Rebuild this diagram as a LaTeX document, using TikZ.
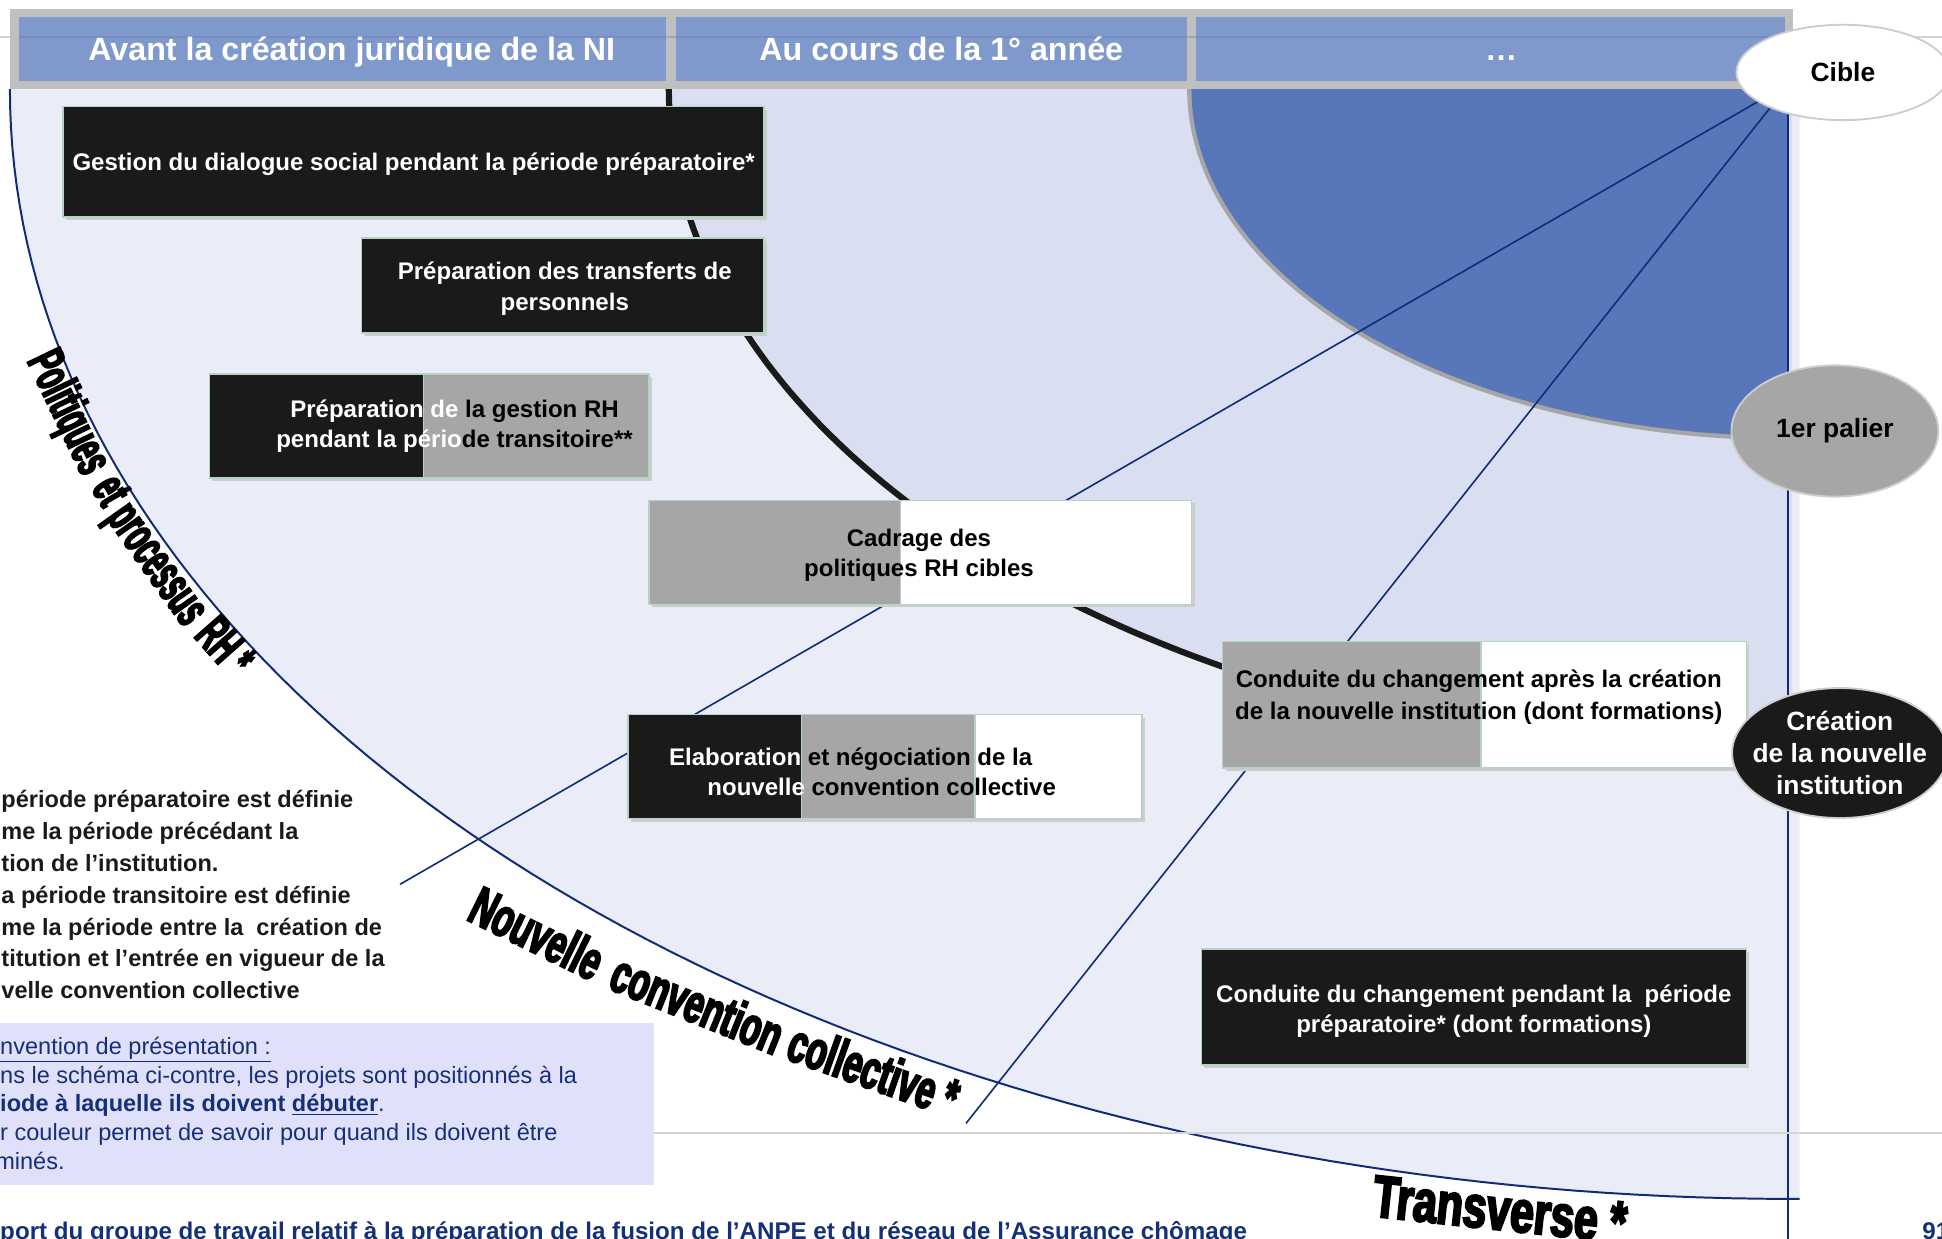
\documentclass[tikz,border=0pt]{standalone}
\usepackage{fontspec}
\setmainfont{Liberation Sans}
\newfontfamily\wordA{Liberation Sans Bold}[FakeStretch=0.52,FakeBold=3.5]
\newfontfamily\wordB{Liberation Sans Bold}[FakeStretch=0.62,FakeBold=3.5]
\newfontfamily\wordC{Liberation Sans Bold}[FakeStretch=0.72,FakeBold=3.5]
\usetikzlibrary{shapes.geometric}
\pgfdeclarelayer{back}
\pgfdeclarelayer{mid}
\pgfsetlayers{back,mid,main}
\definecolor{hdrgrey}{RGB}{191,191,191}
\definecolor{hdrblue}{RGB}{127,153,204}
\definecolor{lightfill}{RGB}{234,237,247}
\definecolor{midfill}{RGB}{217,223,240}
\definecolor{bluefill}{RGB}{88,119,187}
\definecolor{navy}{RGB}{16,44,120}
\definecolor{boxblack}{RGB}{26,26,26}
\definecolor{boxgrey}{RGB}{166,166,166}
\definecolor{mint}{RGB}{178,212,195}
\definecolor{shadowc}{RGB}{205,205,205}
\definecolor{lavender}{RGB}{224,224,250}
\definecolor{textnavy}{RGB}{20,48,120}
\definecolor{slidegrey}{RGB}{212,212,212}
\definecolor{circborder}{RGB}{205,205,205}
\tikzset{
  hdrtxt/.style={text=white, inner sep=0, anchor=base, font=\bfseries\fontsize{26}{30}\selectfont},
  boxtxt/.style={inner sep=0, align=center, font=\bfseries\fontsize{19.4}{24.5}\selectfont},
  part/.style={draw=mint, line width=1.3},
  shade/.style={fill=shadowc},
  circ/.style={ellipse, draw=circborder, line width=1.5, inner sep=0, align=center, font=\bfseries\fontsize{21.3}{26}\selectfont},
  navyline/.style={draw=navy, line width=1.3},
  rimline/.style={draw=navy, line width=1.6},
  waA/.style={sloped, anchor=base, inner sep=0, font=\wordA\fontsize{42}{42}\selectfont},
  waB/.style={sloped, anchor=base, inner sep=0, font=\wordB\fontsize{44}{44}\selectfont},
  waC/.style={sloped, anchor=base, inner sep=0, font=\wordC\fontsize{48}{48}\selectfont},
}
\begin{document}
\begin{tikzpicture}[x=1pt,y=-1pt]
\useasboundingbox (0,0) rectangle (1568,1000);
\clip (0,0) rectangle (1568,1000);
\begin{pgfonlayer}{back}
  \fill[white] (0,0) rectangle (1568,1000);
  \draw[slidegrey, line width=1.5] (0,30) -- (1568,30);
  \fill[lightfill] (1453,72) -- (8,72) -- plot[domain=0:90,samples=181,variable=\t] ({1447-1439*cos(\t)},{72+896*sin(\t)}) -- (1453,968) -- cycle;
  \fill[midfill] (540,72) -- plot[domain=0:90,samples=121,variable=\t] ({1447-907*cos(\t)},{72+541*sin(\t)}) -- (1447,72) -- cycle;
  \draw[boxblack, line width=5] plot[domain=0:90,samples=121,variable=\t] ({1447-907*cos(\t)},{72+541*sin(\t)});
  \draw[boxgrey, line width=7] plot[domain=0:90,samples=91,variable=\t] ({1443-481*cos(\t)},{72+280*sin(\t)});
  \fill[bluefill] (962,72) -- plot[domain=0:90,samples=91,variable=\t] ({1443-481*cos(\t)},{72+280*sin(\t)}) -- (1443,72) -- cycle;
  \draw[rimline] plot[domain=0:90,samples=181,variable=\t] ({1447-1439*cos(\t)},{72+896*sin(\t)}) -- (1453,968);
  \draw[rimline] (1444,72) -- (1444,1000);
  \draw[slidegrey, line width=1.5] (0,915) -- (1568,915);
\end{pgfonlayer}

% ---- boxes ----
\fill[shade] (53.5,88.5) rectangle (619.5,177.5);
\draw[part, fill=boxblack] (51,86) rectangle (617,175);
\node[boxtxt, text=white] (b1) at (334,132.5) {Gestion du dialogue social pendant la période préparatoire*};

\fill[shade] (294.5,194.5) rectangle (619.5,271.5);
\draw[part, fill=boxblack] (292,192) rectangle (617,269);
\node[boxtxt, text=white] (b2) at (456,233) {Préparation des transferts de\\personnels};

\fill[shade] (171.5,304.5) rectangle (526.5,388.5);
\draw[part, fill=boxblack] (169,302) rectangle (342,386);
\draw[part, fill=boxgrey] (342,302) rectangle (524,386);
\node[boxtxt] (b3) at (367,344) {\textcolor{white}{Préparation de} la gestion RH\\\textcolor{white}{pendant la pério}de transitoire**};

\fill[shade] (526.5,406.5) rectangle (964.5,490.5);
\draw[part, fill=boxgrey] (524,404) rectangle (727,488);
\draw[part, fill=white] (727,404) rectangle (962,488);
\node[boxtxt] (b4) at (742,448.5) {Cadrage des\\politiques RH cibles};

\fill[shade] (509.5,579.5) rectangle (924.5,663.5);
\draw[part, fill=boxblack] (507,577) rectangle (647,661);
\draw[part, fill=boxgrey] (647,577) rectangle (787,661);
\draw[part, fill=white] (787,577) rectangle (922,661);
\node[boxtxt, align=left, anchor=west] (b5) at (540,623) {\textcolor{white}{Elaboration} et négociation de la\\\hspace*{31pt}\textcolor{white}{nouvelle} convention collective};

\fill[shade] (989.5,520.5) rectangle (1412.5,622.5);
\draw[part, fill=boxgrey] (987,518) rectangle (1196,620);
\draw[part, fill=white] (1196,518) rectangle (1410,620);
\node[boxtxt, font=\bfseries\fontsize{19.4}{26}\selectfont] (b6) at (1194,563) {Conduite du changement après la création\\de la nouvelle institution (dont formations)};

\fill[shade] (972.5,768.5) rectangle (1412.5,862.5);
\draw[part, fill=boxblack] (970,766) rectangle (1410,860);
\node[boxtxt, text=white] (b7) at (1190,816.5) {Conduite du changement pendant la\ \ période\\préparatoire* (dont formations)};

% ---- header ----
\fill[hdrgrey] (8,7.5) rectangle (1448,71.5);
\fill[hdrblue] (15,13.5) rectangle (538,65.5);
\fill[hdrblue] (546,13.5) rectangle (958,65.5);
\fill[hdrblue] (966,13.5) rectangle (1441,65.5);
\draw[hdrblue!80!black, line width=1.2, opacity=0.35] (15,30) -- (1441,30);
\node[hdrtxt] (h1) at (284,48.5) {Avant la création juridique de la NI};
\node[hdrtxt] (h2) at (760,48.5) {Au cours de la 1° année};
\node[hdrtxt] (h3) at (1212,48.5) {…};

% ---- milestones ----
\node[circ, fill=white, minimum width=172pt, minimum height=77pt] (cible) at (1488,58.5) {Cible};
\node[circ, fill=boxgrey, minimum width=167pt, minimum height=106pt] (palier) at (1481.5,348) {1er palier};
\node[circ, fill=boxblack, minimum width=174pt, minimum height=105pt] (creation) at (1485.5,608) {};
\node[inner sep=0, align=center, text=white, font=\bfseries\fontsize{21.3}{26}\selectfont] (creationtxt) at (creation.center) {Création\\de la nouvelle\\institution};

% ---- connectors ----
\begin{pgfonlayer}{mid}
  \coordinate (e1) at (323,714);
  \coordinate (e2) at (780,907);
  \draw[navyline] (cible.199) -- (e1);
  \draw[navyline] (cible.206) -- (e2);
\end{pgfonlayer}

% ---- axis labels ----
\path (17,276) .. controls (57,378) and (117,478) .. (202,564)
  node[waA, pos=0.205] (pol1) {Politiques}
  node[waA, pos=0.42] (pol2) {et}
  node[waA, pos=0.627] (pol3) {processus}
  node[waA, pos=0.875] (pol4) {RH *};
\path (365,735) .. controls (490,805) and (640,858) .. (790,910)
  node[waB, pos=0.16] (nc1) {Nouvelle}
  node[waB, pos=0.475] (nc2) {convention}
  node[waB, pos=0.80] (nc3) {collective *};
\path (1085,975) .. controls (1165,990) and (1250,998) .. (1345,1004)
  node[waC, pos=0.5] (tr) {Transverse *};

% ---- notes ----
\node[anchor=north west, inner sep=0, align=left, text=boxblack, font=\bfseries\fontsize{19}{25.7}\selectfont] (notes) at (1,638) {période préparatoire est définie\\me la période précédant la\\tion de l’institution.\\a période transitoire est définie\\me la période entre la\ \ création de\\titution et l’entrée en vigueur de la\\velle convention collective};

\fill[lavender] (0,826) rectangle (528,957);
\node[anchor=north west, inner sep=0, align=left, text=textnavy, font=\fontsize{19}{23.3}\selectfont] (conv) at (0,837) {\underline{nvention de présentation :}\\ns le schéma ci-contre, les projets sont positionnés à la\\\textbf{iode à laquelle ils doivent \underline{débuter}}.\\r couleur permet de savoir pour quand ils doivent être\\\hspace*{-4pt}minés.};

\node[anchor=base west, inner sep=0, text=textnavy, font=\bfseries\fontsize{19.5}{22}\selectfont] (footer) at (0,1001) {port du groupe de travail relatif à la préparation de la fusion de l’ANPE et du réseau de l’Assurance chômage};
\node[anchor=base west, inner sep=0, text=textnavy, font=\bfseries\fontsize{19.5}{22}\selectfont] (pagenum) at (1552,1001) {91};
\end{tikzpicture}
\end{document}
